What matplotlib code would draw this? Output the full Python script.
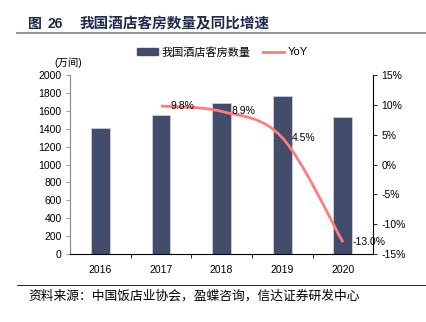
import matplotlib
matplotlib.use("Agg")
import matplotlib.pyplot as plt
from matplotlib.path import Path
from matplotlib.patches import PathPatch
from matplotlib.lines import Line2D
from matplotlib.patches import Patch

plt.rcParams['font.family'] = ['Liberation Sans', 'Noto Sans CJK SC']

years = ["2016", "2017", "2018", "2019", "2020"]
rooms = [1411, 1549, 1687, 1763, 1534]
yoy_years = ["2017", "2018", "2019", "2020"]
yoy = [9.8, 8.9, 4.5, -13.0]

bar_color = "#434c6a"
line_color = "#ff7c80"

fig = plt.figure(figsize=(4.27, 3.22), dpi=100)
ax = fig.add_axes([0.164, 0.211, 0.710, 0.556])
ax2 = ax.twinx()

x = list(range(len(years)))
ax.bar(x, rooms, width=0.31, color=bar_color, edgecolor="#c9cfe0", linewidth=0.6, zorder=2)
ax.set_xlim(-0.5, len(years) - 0.5)
ax.set_ylim(0, 2000)
ax.set_yticks(range(0, 2001, 200))
ax.set_xticks(x)
ax.set_xticklabels(years)
ax.set_xticks([i + 0.5 for i in x[:-1]], minor=True)
ax.tick_params(axis="x", which="major", length=0, pad=8, labelsize=7.5)
ax.tick_params(axis="x", which="minor", length=3, direction="out", color="black", width=0.6)
ax.tick_params(axis="y", length=3, width=0.6, color="#888888", labelsize=7.5, pad=3)
for s in ["top", "right"]:
    ax.spines[s].set_visible(False)
ax.spines["left"].set_color("#888888")
ax.spines["left"].set_linewidth(0.8)
ax.spines["bottom"].set_linewidth(0.8)

# smooth yoy curve through the points (catmull-rom -> cubic bezier)
px = [years.index(y) for y in yoy_years]
pts = list(zip(px, yoy))
verts = [pts[0]]
codes = [Path.MOVETO]
n = len(pts)
for i in range(n - 1):
    p0 = pts[i - 1] if i > 0 else pts[i]
    p1 = pts[i]
    p2 = pts[i + 1]
    p3 = pts[i + 2] if i + 2 < n else pts[i + 1]
    c1 = (p1[0] + (p2[0] - p0[0]) / 6, p1[1] + (p2[1] - p0[1]) / 6)
    c2 = (p2[0] - (p3[0] - p1[0]) / 6, p2[1] - (p3[1] - p1[1]) / 6)
    verts += [c1, c2, p2]
    codes += [Path.CURVE4] * 3
ax2.add_patch(PathPatch(Path(verts, codes), fill=False, edgecolor=line_color, linewidth=2, zorder=3))
for xi, v in zip(px, yoy):
    ax2.annotate(f"{v:.1f}%", (xi, v), xytext=(7, 0), textcoords="offset points",
                 va="center", ha="left", fontsize=7.5)

ax2.set_ylim(-15, 15)
ax2.set_yticks(range(-15, 16, 5))
ax2.set_yticklabels([f"{t}%" for t in range(-15, 16, 5)])
ax2.tick_params(axis="y", length=3, width=0.6, labelsize=7.5, pad=3)
for s in ["top", "left", "bottom"]:
    ax2.spines[s].set_visible(False)
ax2.spines["right"].set_linewidth(0.8)

fig.text(54 / 427, 1 - 63 / 322, "(万间)", fontsize=7.5, va="center", ha="left")

handles = [Patch(color=bar_color), Line2D([], [], color=line_color, linewidth=2)]
fig.legend(handles, ["我国酒店客房数量", "YoY"], loc="center", bbox_to_anchor=(0.521, 1 - 52 / 322),
           ncol=2, frameon=False, fontsize=8, handlelength=1.9, handleheight=0.5,
           columnspacing=1.1, handletextpad=0.3)

fig.text(28 / 427, 1 - 24 / 322, "图", fontsize=10, fontweight="bold", color="#1e2a4a",
         va="center", ha="left")
fig.text(48 / 427, 1 - 24 / 322, "26", fontsize=10, fontweight="bold", color="#1e2a4a",
         va="center", ha="left")
fig.text(80 / 427, 1 - 24 / 322, "我国酒店客房数量及同比增速", fontsize=10.5,
         fontweight="bold", color="#1e2a4a", va="center", ha="left")
fig.add_artist(Line2D([17 / 427, 1], [1 - 33 / 322, 1 - 33 / 322], color="#808080", linewidth=1.2))
fig.add_artist(Line2D([17 / 427, 1], [1 - 285 / 322, 1 - 285 / 322], color="black", linewidth=0.6))
fig.text(28 / 427, 1 - 296 / 322, "资料来源：中国饭店业协会，盈蝶咨询，信达证券研发中心", fontsize=9.2,
         style="italic", va="center", ha="left")

fig.savefig("out.png", dpi=100)
